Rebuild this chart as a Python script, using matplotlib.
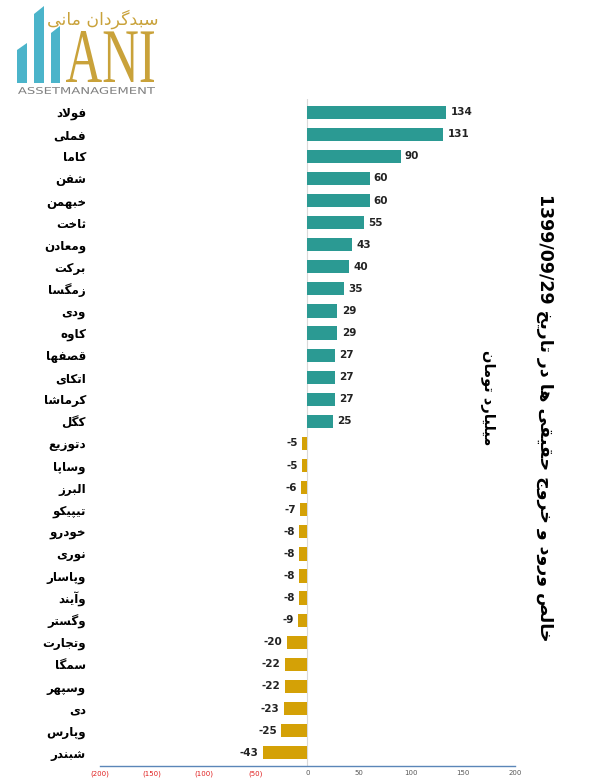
import matplotlib
matplotlib.use("Agg")
import matplotlib.pyplot as plt
from matplotlib.patches import Polygon, PathPatch
from matplotlib.textpath import TextPath
from matplotlib.font_manager import FontProperties
from matplotlib.transforms import Affine2D
from matplotlib.ticker import FuncFormatter

# data (billion toman)
symbols = ["فولاد", "فملی", "کاما", "شفن", "خبهمن", "ثاخت", "ومعادن", "برکت", "زمگسا", "ودی",
           "کاوه", "قصفها", "اتکای", "کرماشا", "کگل", "دتوزیع", "وساپا", "البرز", "تیپیکو", "خودرو",
           "نوری", "وپاسار", "وآیند", "وگستر", "وتجارت", "سمگا", "وسپهر", "دی", "وپارس", "شبندر"]
values = [134, 131, 90, 60, 60, 55, 43, 40, 35, 29,
          29, 27, 27, 27, 25, -5, -5, -6, -7, -8,
          -8, -8, -8, -9, -20, -22, -22, -23, -25, -43]
xticks = [-200, -150, -100, -50, 0, 50, 100, 150, 200]
title = "خالص ورود و خروج حقیقی ها در تاریخ 1399/09/29"
unit = "میلیارد تومان"
logo_fa = "سبدگردان مانی"

# minimal arabic/persian shaping since matplotlib draws glyphs one by one
FORMS = {
    'ا': (0xFE8D, 0xFE8E, None, None), 'آ': (0xFE81, 0xFE82, None, None),
    'ب': (0xFE8F, 0xFE90, 0xFE91, 0xFE92), 'ت': (0xFE95, 0xFE96, 0xFE97, 0xFE98),
    'ث': (0xFE99, 0xFE9A, 0xFE9B, 0xFE9C), 'ج': (0xFE9D, 0xFE9E, 0xFE9F, 0xFEA0),
    'ح': (0xFEA1, 0xFEA2, 0xFEA3, 0xFEA4), 'خ': (0xFEA5, 0xFEA6, 0xFEA7, 0xFEA8),
    'د': (0xFEA9, 0xFEAA, None, None), 'ذ': (0xFEAB, 0xFEAC, None, None),
    'ر': (0xFEAD, 0xFEAE, None, None), 'ز': (0xFEAF, 0xFEB0, None, None),
    'س': (0xFEB1, 0xFEB2, 0xFEB3, 0xFEB4), 'ش': (0xFEB5, 0xFEB6, 0xFEB7, 0xFEB8),
    'ص': (0xFEB9, 0xFEBA, 0xFEBB, 0xFEBC), 'ع': (0xFEC9, 0xFECA, 0xFECB, 0xFECC),
    'ف': (0xFED1, 0xFED2, 0xFED3, 0xFED4), 'ق': (0xFED5, 0xFED6, 0xFED7, 0xFED8),
    'ل': (0xFEDD, 0xFEDE, 0xFEDF, 0xFEE0), 'م': (0xFEE1, 0xFEE2, 0xFEE3, 0xFEE4),
    'ن': (0xFEE5, 0xFEE6, 0xFEE7, 0xFEE8), 'ه': (0xFEE9, 0xFEEA, 0xFEEB, 0xFEEC),
    'و': (0xFEED, 0xFEEE, None, None), 'پ': (0xFB56, 0xFB57, 0xFB58, 0xFB59),
    'ک': (0xFB8E, 0xFB8F, 0xFB90, 0xFB91), 'گ': (0xFB92, 0xFB93, 0xFB94, 0xFB95),
    'ی': (0xFBFC, 0xFBFD, 0xFBFE, 0xFBFF),
}
RIGHT_ONLY = set('اآدذرزو')


def shape_word(w):
    out = []
    i = 0
    while i < len(w):
        c = w[i]
        prev = i > 0 and w[i - 1] in FORMS and w[i - 1] not in RIGHT_ONLY
        if c == 'ل' and i + 1 < len(w) and w[i + 1] in 'اآ':
            iso, fin = (0xFEFB, 0xFEFC) if w[i + 1] == 'ا' else (0xFEF5, 0xFEF6)
            out.append(chr(fin if prev else iso))
            i += 2
            continue
        if c not in FORMS:
            out.append(c)
            i += 1
            continue
        nxt = c not in RIGHT_ONLY and i + 1 < len(w) and w[i + 1] in FORMS
        f = FORMS[c]
        if prev and nxt:
            out.append(chr(f[3]))
        elif prev:
            out.append(chr(f[1]))
        elif nxt:
            out.append(chr(f[2]))
        else:
            out.append(chr(f[0]))
        i += 1
    return "".join(out)


def rtl(s):
    words = []
    for w in s.split(" "):
        if any(ch in FORMS for ch in w):
            words.append(shape_word(w)[::-1])
        else:
            words.append(w)
    return " ".join(words[::-1])


teal = "#2B9A93"
gold = "#D4A106"
colors = [teal if v > 0 else gold for v in values]

fig = plt.figure(figsize=(5.94, 7.83), dpi=100)
ax = fig.add_axes([0.168, 0.0217, 0.699, 0.852])
ax.patch.set_alpha(0)

pos = list(range(len(values)))
bars = ax.barh(pos, values, height=0.6, color=colors)
ax.bar_label(bars, fmt="%d", padding=3, fontsize=7.5, fontweight="bold", color="#222222")
ax.axvline(0, color="#D9D9D9", lw=0.8, zorder=0)

ax.set_ylim(len(values) - 0.4, -0.6)
ax.set_yticks(pos)
ax.set_yticklabels([rtl(s) for s in symbols], fontsize=8.6, fontweight="bold")
ax.tick_params(axis="y", length=0, pad=10)

ax.set_xlim(-200, 200)
ax.set_xticks(xticks)
ax.xaxis.set_major_formatter(FuncFormatter(lambda v, p: "(%d)" % abs(v) if v < 0 else "%d" % v))
ax.tick_params(axis="x", length=0, pad=3, labelsize=5, labelcolor="#595959")
for lab, v in zip(ax.get_xticklabels(), xticks):
    if v < 0:
        lab.set_color("#E02020")

for s in ["top", "right", "left"]:
    ax.spines[s].set_visible(False)
ax.spines["bottom"].set_color("#5B86B8")
ax.spines["bottom"].set_linewidth(1)

# overlay in pixel coordinates for titles and logo
ov = fig.add_axes([0, 0, 1, 1], zorder=-1)
ov.set_xlim(0, 594)
ov.set_ylim(783, 0)
ov.axis("off")

ov.text(545, 418, rtl(title), rotation=-90, ha="center", va="center",
        fontsize=12.5, fontweight="bold", color="black")
ov.text(487, 398, rtl(unit), rotation=-90, ha="center", va="center",
        fontsize=10.5, fontweight="bold", color="black")

# logo
blue = "#4BB4CA"
ov.add_patch(Polygon([(17, 83), (17, 50), (27, 43), (27, 83)], closed=True, color=blue, lw=0))
ov.add_patch(Polygon([(34, 83), (34, 14), (44, 6), (44, 83)], closed=True, color=blue, lw=0))
ov.add_patch(Polygon([(51, 83), (51, 33), (60, 26), (60, 83)], closed=True, color=blue, lw=0))


def fit_text(s, x0, x1, y0, y1, color, family):
    tp = TextPath((0, 0), s, size=10, prop=FontProperties(family=family))
    bb = tp.get_extents()
    sx = (x1 - x0) / bb.width
    sy = (y1 - y0) / bb.height
    tr = Affine2D().translate(-bb.x0, -bb.y0).scale(sx, -sy).translate(x0, y1)
    ov.add_patch(PathPatch(tr.transform_path(tp), color=color, lw=0))


fit_text("ANI", 66, 154, 31, 82, "#C9A23A", "Liberation Serif")
fit_text("ASSETMANAGEMENT", 18, 155, 87, 94, "#808080", "DejaVu Sans")
ov.text(103, 19, rtl(logo_fa), ha="center", va="center", fontsize=12.5, color="#C9A23A")

fig.savefig("out.png", dpi=100, facecolor="white")
